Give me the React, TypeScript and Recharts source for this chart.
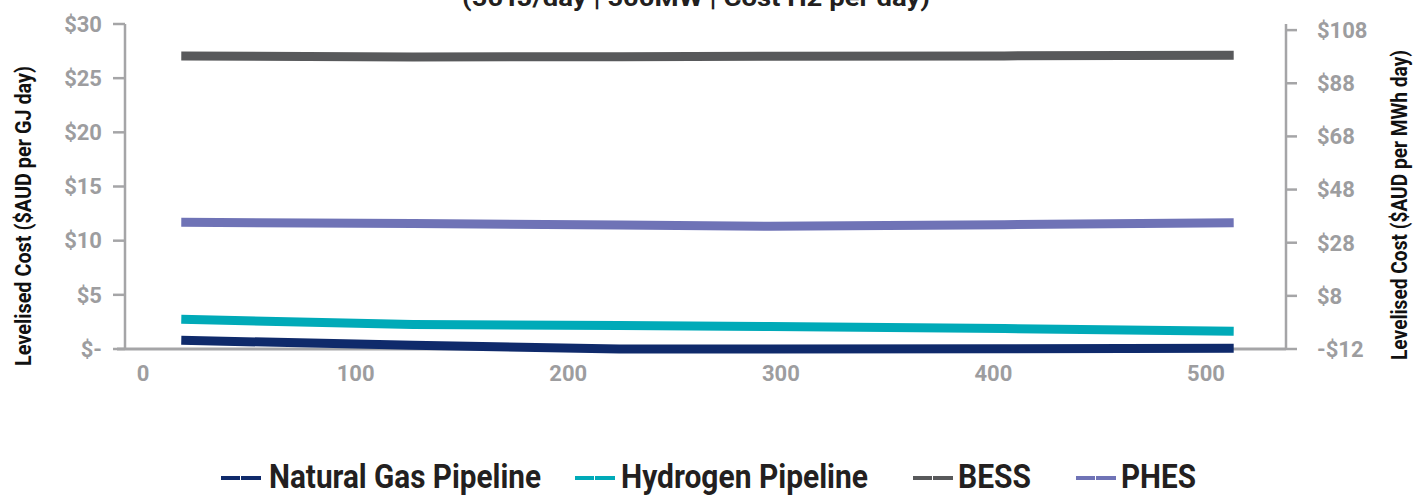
import React from "react";
import { LineChart, Line, XAxis, YAxis, Legend, Label, Customized } from "recharts";

// ---- data ----
const DISTANCE = [18, 127, 224, 295, 405, 513];
const NATURAL_GAS = [0.8, 0.35, 0, 0, 0.02, 0.08];
const HYDROGEN = [2.74, 2.26, 2.17, 2.08, 1.89, 1.63];
const BESS = [98.3, 97.9, 98.0, 98.2, 98.3, 98.5];
const PHES = [35.7, 35.2, 34.65, 34.2, 34.8, 35.5];

const X_TICKS = [0, 100, 200, 300, 400, 500];
const LEFT_TICKS = [0, 5, 10, 15, 20, 25, 30];
const RIGHT_TICKS = [-12, 8, 28, 48, 68, 88, 108];

const SERIES = [
  { key: "ng", name: "Natural Gas Pipeline", color: "#0f2a6b", axis: "left" },
  { key: "h2", name: "Hydrogen Pipeline", color: "#00aab8", axis: "left" },
  { key: "bess", name: "BESS", color: "#58595b", axis: "right" },
  { key: "phes", name: "PHES", color: "#6f73b6", axis: "right" },
];

const TITLE = "(50TJ/day | 500MW | Cost H2 per day)";
const LEFT_TITLE = "Levelised Cost ($AUD per GJ day)";
const RIGHT_TITLE = "Levelised Cost ($AUD per MWh day)";

const data = DISTANCE.map((d, i) => ({
  d,
  ng: NATURAL_GAS[i],
  h2: HYDROGEN[i],
  bess: BESS[i],
  phes: PHES[i],
}));

// ---- styling / layout ----
const AXIS = "#a5a5a7";
const TICK_FILL = "#9d9d9f";
const FONT = "Roboto, 'Noto Sans', sans-serif";
const tickStyle = { fill: TICK_FILL, fontSize: 22, fontWeight: 700, fontFamily: FONT };

// legend item layout: [sampleX, textX, textLength]
const LEGEND_LAYOUT = [
  [221, 269, 272],
  [575, 621, 247],
  [913, 958, 73],
  [1076, 1121, 75],
];

const LegendContent = () => (
  <svg width={1426} height={55} style={{ display: "block" }}>
    {SERIES.map((s, i) => {
      const [sx, tx, tl] = LEGEND_LAYOUT[i];
      return (
        <g key={s.key}>
          <line x1={sx} x2={sx + 19} y1={38} y2={38} stroke={s.color} strokeWidth={4} />
          <line x1={sx + 20} x2={sx + 40} y1={38} y2={38} stroke={s.color} strokeWidth={4} />
          <text
            x={tx}
            y={48}
            fontSize={33}
            fontWeight={700}
            fontFamily={FONT}
            fill="#231f20"
            textLength={tl}
            lengthAdjust="spacingAndGlyphs"
          >
            {s.name}
          </text>
        </g>
      );
    })}
  </svg>
);

const Title = () => (
  <text
    x={696}
    y={6}
    textAnchor="middle"
    fontSize={23}
    fontWeight={700}
    fontFamily={FONT}
    fill="#231f20"
    textLength={468}
    lengthAdjust="spacingAndGlyphs"
  >
    {TITLE}
  </text>
);

// horizontal axis baseline (drawn beneath the series)
const BaseLine = () => <line x1={117} x2={1286} y1={349} y2={349} stroke={AXIS} strokeWidth={3} />;

const AxisTitle = ({ cx, cy, len, text }: { cx: number; cy: number; len: number; text: string }) => (
  <text
    x={cx}
    y={cy}
    transform={`rotate(-90, ${cx}, ${cy})`}
    textAnchor="middle"
    fontSize={22}
    fontWeight={700}
    fontFamily={FONT}
    fill="#111"
    textLength={len}
    lengthAdjust="spacingAndGlyphs"
  >
    {text}
  </text>
);

export default function App() {
  return (
    <div style={{ position: "absolute", left: 0, top: 0, width: 1426, height: 495, background: "#fff" }}>
      <LineChart width={1426} height={495} data={data} margin={{ top: 24, right: 40, bottom: 100, left: 0 }}>
        <Customized component={BaseLine} />
        <XAxis
          dataKey="d"
          type="number"
          domain={[-8.47, 537.6]}
          ticks={X_TICKS}
          tickLine={false}
          tickSize={0}
          tickMargin={16}
          height={46}
          axisLine={false}
          tick={tickStyle}
        />
        <YAxis
          yAxisId="left"
          orientation="left"
          width={125}
          domain={[0, 30]}
          ticks={LEFT_TICKS}
          tickSize={12}
          tickMargin={11}
          axisLine={{ stroke: AXIS, strokeWidth: 2.5 }}
          tickLine={{ stroke: AXIS, strokeWidth: 2.5 }}
          tick={tickStyle}
          tickFormatter={(v: number) => (v === 0 ? "$-" : `$${v}`)}
        >
          <Label content={() => <AxisTitle cx={31} cy={216} len={300} text={LEFT_TITLE} />} />
        </YAxis>
        <YAxis
          yAxisId="right"
          orientation="right"
          width={100}
          domain={[-12, 110.3]}
          ticks={RIGHT_TICKS}
          tickSize={11}
          tickMargin={20}
          axisLine={{ stroke: AXIS, strokeWidth: 2.5 }}
          tickLine={{ stroke: AXIS, strokeWidth: 2.5 }}
          tick={{ ...tickStyle, textAnchor: "start" }}
          tickFormatter={(v: number) => (v < 0 ? `-$${-v}` : `$${v}`)}
        >
          <Label content={() => <AxisTitle cx={1407} cy={205} len={310} text={RIGHT_TITLE} />} />
        </YAxis>
        {SERIES.map((s) => (
          <Line
            key={s.key}
            yAxisId={s.axis}
            dataKey={s.key}
            name={s.name}
            type="linear"
            stroke={s.color}
            strokeWidth={9}
            dot={false}
            activeDot={false}
            isAnimationActive={false}
          />
        ))}
        <Legend
          layout="horizontal"
          verticalAlign="middle"
          align="center"
          content={LegendContent}
          wrapperStyle={{ position: "absolute", left: 0, top: 440, width: 1426, height: 55 }}
        />
        <Customized component={Title} />
      </LineChart>
    </div>
  );
}
